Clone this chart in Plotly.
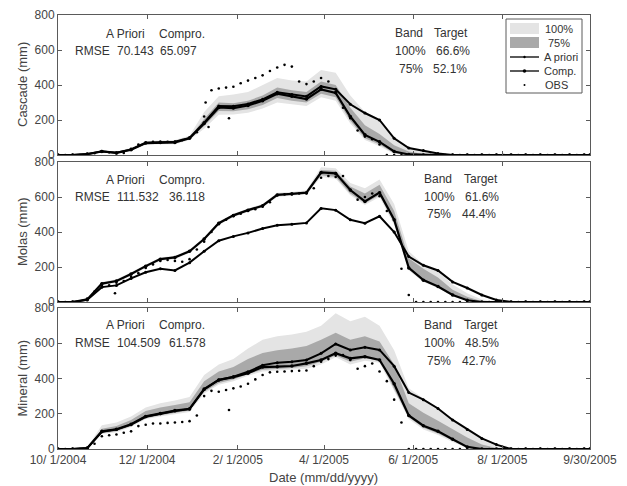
import pandas as pd
import plotly.graph_objects as go

W, H = 627, 486

# ---------------- data ----------------
dates10 = [d.strftime("%Y-%m-%d") for d in pd.date_range("2004-10-01", periods=37, freq="10D")] + ["2005-09-30"]
dates5 = [d.strftime("%Y-%m-%d") for d in pd.date_range("2004-10-01", periods=73, freq="5D")] + ["2005-09-30"]

# Cascade
casc_apri = [0, 0, 5, 22, 13, 32, 70, 75, 76, 98, 185, 280, 278, 292, 318, 358, 345, 335, 392, 375,
             290, 240, 200, 95, 40, 25, 8, 0, 0, 0, 0, 0, 0, 0, 0, 0, 0, 0]
casc_comp = [0, 0, 5, 20, 12, 30, 68, 72, 72, 95, 180, 272, 268, 283, 310, 350, 335, 320, 375, 355,
             220, 115, 75, 20, 3, 0, 0, 0, 0, 0, 0, 0, 0, 0, 0, 0, 0, 0]
casc_b100_lo = [0, 0, 3, 15, 8, 22, 58, 62, 62, 85, 150, 230, 232, 242, 265, 300, 290, 280, 330, 310,
                180, 85, 50, 5, 0, 0, 0, 0, 0, 0, 0, 0, 0, 0, 0, 0, 0, 0]
casc_b100_hi = [0, 0, 8, 28, 18, 42, 80, 82, 85, 110, 245, 335, 345, 360, 400, 440, 425, 420, 485, 470,
                340, 245, 205, 100, 45, 20, 0, 0, 0, 0, 0, 0, 0, 0, 0, 0, 0, 0]
casc_b75_lo = [0, 0, 4, 17, 10, 26, 62, 66, 66, 90, 165, 252, 250, 262, 285, 325, 310, 300, 350, 330,
               195, 95, 60, 10, 0, 0, 0, 0, 0, 0, 0, 0, 0, 0, 0, 0, 0, 0]
casc_b75_hi = [0, 0, 6, 24, 15, 36, 75, 78, 80, 103, 205, 300, 295, 310, 340, 385, 370, 360, 420, 400,
               270, 170, 120, 55, 20, 5, 0, 0, 0, 0, 0, 0, 0, 0, 0, 0, 0, 0]
casc_obs = [0, 0, 0, 0, 3, 10, 20, 15, 10, 12, 35, 60, 70, 75, 72, 75, 75, 85, 100, 130,
            220, 370, 380, 385, 390, 410, 425, 440, 455, 480, 500, 515, 505, 420, 405, 420, 440, 420, 360, 270,
            210, 140, 105, 90, 60, 0, 0, 0, 0, 0, 0, 0, 0, 0, 0, 0, 0, 0, 0, 0,
            0, 0, 0, 0, 0, 0, 0, 0, 0, 0, 0, 0, 0, 0]
casc_obs_extra_dates = ["2005-01-10", "2005-01-12", "2005-01-26"]
casc_obs_extra = [300, 160, 210]

# Molas
molas_apri = [0, 0, 12, 85, 95, 135, 170, 190, 180, 225, 290, 350, 375, 395, 420, 438, 445, 452, 535, 525,
              470, 450, 490, 400, 260, 210, 180, 115, 80, 40, 12, 0, 0, 0, 0, 0, 0, 0]
molas_comp = [0, 0, 15, 105, 120, 160, 205, 245, 255, 290, 360, 450, 495, 525, 550, 612, 618, 625, 740, 735,
              640, 575, 625, 470, 195, 125, 88, 40, 10, 0, 0, 0, 0, 0, 0, 0, 0, 0]
molas_b100_lo = [0, 0, 10, 95, 110, 150, 195, 235, 245, 280, 350, 440, 485, 515, 540, 600, 608, 615, 715, 705,
                 610, 555, 600, 440, 180, 115, 80, 35, 5, 0, 0, 0, 0, 0, 0, 0, 0, 0]
molas_b100_hi = [0, 0, 20, 115, 130, 170, 215, 255, 265, 300, 370, 460, 505, 535, 560, 625, 628, 638, 770, 765,
                 680, 650, 700, 560, 290, 215, 175, 100, 50, 15, 0, 0, 0, 0, 0, 0, 0, 0]
molas_b75_lo = [0, 0, 12, 100, 115, 155, 200, 240, 250, 285, 355, 445, 490, 520, 545, 606, 613, 620, 725, 715,
                620, 565, 610, 455, 190, 120, 85, 38, 8, 0, 0, 0, 0, 0, 0, 0, 0, 0]
molas_b75_hi = [0, 0, 18, 110, 125, 165, 210, 250, 260, 295, 365, 455, 500, 530, 555, 618, 623, 630, 755, 750,
                660, 620, 670, 520, 250, 190, 140, 70, 30, 5, 0, 0, 0, 0, 0, 0, 0, 0]
molas_obs = [0, 0, 0, 0, 20, 60, 95, 95, 110, 120, 145, 165, 195, 215, 235, 240, 235, 230, 245, 300,
             345, 400, 445, 470, 490, 505, 520, 530, 545, 570, 610, 615, 615, 620, 620, 650, 710, 720, 715, 720,
             640, 585, 600, 620, 605, 520, 400, 190, 40, 0, 0, 0, 0, 0, 0, 0, 0, 0, 0, 0,
             0, 0, 0, 0, 0, 0, 0, 0, 0, 0, 0, 0, 0, 0]
molas_obs_extra_dates = ["2004-11-09"]
molas_obs_extra = [50]

# Mineral
min_apri = [0, 0, 5, 98, 110, 138, 183, 200, 216, 226, 338, 392, 410, 438, 475, 490, 495, 505, 543, 596,
            562, 577, 562, 470, 320, 280, 230, 165, 110, 60, 25, 0, 0, 0, 0, 0, 0, 0]
min_comp = [0, 0, 5, 100, 112, 140, 185, 202, 218, 228, 340, 392, 408, 430, 465, 467, 471, 486, 505, 543,
            514, 524, 505, 370, 190, 132, 100, 55, 12, 0, 0, 0, 0, 0, 0, 0, 0, 0]
min_b100_lo = [0, 0, 3, 85, 95, 125, 170, 185, 198, 210, 315, 365, 385, 415, 440, 445, 450, 455, 480, 520,
               480, 500, 490, 330, 170, 110, 80, 40, 5, 0, 0, 0, 0, 0, 0, 0, 0, 0]
min_b100_hi = [0, 0, 10, 135, 150, 185, 235, 260, 275, 295, 420, 480, 510, 570, 620, 640, 650, 665, 700, 770,
               725, 750, 700, 560, 345, 290, 230, 170, 115, 62, 30, 0, 0, 0, 0, 0, 0, 0]
min_b75_lo = [0, 0, 4, 90, 100, 130, 175, 192, 205, 218, 325, 375, 395, 425, 450, 455, 460, 470, 495, 530,
              495, 515, 505, 340, 180, 120, 88, 48, 10, 0, 0, 0, 0, 0, 0, 0, 0, 0]
min_b75_hi = [0, 0, 8, 115, 130, 165, 215, 235, 250, 265, 385, 440, 465, 510, 545, 560, 570, 585, 620, 660,
              620, 640, 610, 480, 260, 205, 160, 110, 65, 25, 5, 0, 0, 0, 0, 0, 0, 0]
min_obs = [0, 0, 0, 0, 0, 30, 72, 78, 82, 92, 100, 130, 138, 145, 145, 148, 150, 153, 158, 190,
           300, 330, 325, 335, 344, 355, 370, 395, 420, 435, 438, 440, 442, 444, 445, 470, 495, 510, 530, 533,
           505, 455, 470, 485, 440, 385, 280, 150, 0, 0, 0, 0, 0, 0, 0, 0, 0, 0, 0, 0,
           0, 0, 0, 0, 0, 0, 0, 0, 0, 0, 0, 0, 0, 0]
min_obs_extra_dates = ["2005-01-26"]
min_obs_extra = [221]

panel_names = ["Cascade (mm)", "Molas (mm)", "Mineral (mm)"]
rmse_apriori = ["70.143", "111.532", "104.509"]
rmse_compro = ["65.097", "36.118", "61.578"]
target_100 = ["66.6%", "61.6%", "48.5%"]
target_75 = ["52.1%", "44.4%", "42.7%"]

x_tickvals = ["2004-10-01", "2004-12-01", "2005-02-01", "2005-04-01", "2005-06-01", "2005-08-01", "2005-09-30"]
x_ticktext = ["10/ 1/2004", "12/ 1/2004", "2/ 1/2005", "4/ 1/2005", "6/ 1/2005", "8/ 1/2005", "9/30/2005"]
y_tickvals = [0, 200, 400, 600, 800]

panels = [
    (casc_apri, casc_comp, casc_b100_lo, casc_b100_hi, casc_b75_lo, casc_b75_hi, casc_obs,
     casc_obs_extra_dates, casc_obs_extra),
    (molas_apri, molas_comp, molas_b100_lo, molas_b100_hi, molas_b75_lo, molas_b75_hi, molas_obs,
     molas_obs_extra_dates, molas_obs_extra),
    (min_apri, min_comp, min_b100_lo, min_b100_hi, min_b75_lo, min_b75_hi, min_obs,
     min_obs_extra_dates, min_obs_extra),
]

# ---------------- styling ----------------
FONT = "Liberation Sans, Arial, Helvetica, sans-serif"
LIGHT = "#e4e4e4"
DARK = "#a9a9a9"
AXC = "#5a5a5a"
TXT = "#333333"

def px(x):
    return x / W

def py(y):
    return 1 - y / H

panel_px = [(15, 155), (162, 302), (308, 449)]
x_left, x_right = 58, 590

fig = go.Figure()

for i, (apri, comp, b1lo, b1hi, b7lo, b7hi, obs, ex_d, ex_v) in enumerate(panels):
    xa = "x" if i == 0 else f"x{i+1}"
    ya = "y" if i == 0 else f"y{i+1}"
    fig.add_trace(go.Scatter(x=dates10, y=b1lo, mode="lines", line=dict(width=0, color=LIGHT),
                             xaxis=xa, yaxis=ya, showlegend=False, hoverinfo="skip"))
    fig.add_trace(go.Scatter(x=dates10, y=b1hi, mode="lines", line=dict(width=0, color=LIGHT),
                             fill="tonexty", fillcolor=LIGHT, xaxis=xa, yaxis=ya, showlegend=False))
    fig.add_trace(go.Scatter(x=dates10, y=b7lo, mode="lines", line=dict(width=0, color=DARK),
                             xaxis=xa, yaxis=ya, showlegend=False, hoverinfo="skip"))
    fig.add_trace(go.Scatter(x=dates10, y=b7hi, mode="lines", line=dict(width=0, color=DARK),
                             fill="tonexty", fillcolor=DARK, xaxis=xa, yaxis=ya, showlegend=False))
    fig.add_trace(go.Scatter(x=dates10, y=apri, mode="lines+markers",
                             line=dict(color="black", width=2), marker=dict(size=3, color="black"),
                             xaxis=xa, yaxis=ya, showlegend=False, name="A priori"))
    fig.add_trace(go.Scatter(x=dates10, y=comp, mode="lines+markers",
                             line=dict(color="black", width=2.2), marker=dict(size=3.5, color="black"),
                             xaxis=xa, yaxis=ya, showlegend=False, name="Comp."))
    fig.add_trace(go.Scatter(x=dates5 + ex_d, y=obs + ex_v, mode="markers",
                             marker=dict(size=2.6, color="black"),
                             xaxis=xa, yaxis=ya, showlegend=False, name="OBS"))

layout = dict(
    template="none",
    width=W, height=H,
    margin=dict(l=0, r=0, t=0, b=0, pad=0, autoexpand=False),
    paper_bgcolor="white", plot_bgcolor="white",
    showlegend=False,
    font=dict(family=FONT, size=12, color=TXT),
)

for i, (top, bot) in enumerate(panel_px):
    xk = "xaxis" if i == 0 else f"xaxis{i+1}"
    yk = "yaxis" if i == 0 else f"yaxis{i+1}"
    layout[xk] = dict(
        domain=[px(x_left), px(x_right)],
        anchor="y" if i == 0 else f"y{i+1}",
        type="date", range=["2004-10-01", "2005-09-30"],
        tickvals=x_tickvals, ticktext=x_ticktext,
        showticklabels=(i == 2),
        ticks="inside", ticklen=4, tickcolor=AXC, tickwidth=1,
        showline=True, linecolor=AXC, linewidth=1, mirror="ticks",
        showgrid=False, zeroline=False, automargin=False,
        tickfont=dict(family=FONT, size=12, color="#444444"),
    )
    layout[yk] = dict(
        domain=[py(bot), py(top)],
        anchor="x" if i == 0 else f"x{i+1}",
        range=[0, 800], tickvals=y_tickvals,
        ticks="inside", ticklen=4, tickcolor=AXC, tickwidth=1,
        showline=True, linecolor=AXC, linewidth=1, mirror="ticks",
        showgrid=False, zeroline=False, automargin=False,
        tickfont=dict(family=FONT, size=12, color="#444444"),
    )

annotations = []

def add_text(text, x, y, size=12, anchor="left", angle=0, color=TXT):
    annotations.append(dict(text=text, x=px(x), y=py(y), xref="paper", yref="paper",
                            xanchor=anchor, yanchor="middle", showarrow=False, textangle=angle,
                            font=dict(family=FONT, size=size, color=color)))

left_rows = [(34, 51), (180, 197), (325, 343)]
right_cols = [(393, 397, 432, 434, 431), (422, 425, 462, 463, 460), (422, 425, 462, 463, 460)]
right_rows = [(33, 51, 69), (179, 197, 214), (325, 343, 361)]
for i in range(3):
    r1, r2 = left_rows[i]
    add_text("A Priori", 104, r1)
    add_text("Compro.", 157, r1)
    add_text("RMSE", 73, r2)
    add_text(rmse_apriori[i], 115, r2)
    add_text(rmse_compro[i], 158 if i == 0 else 167, r2)
    bx, bx75, tx, t100x, t75x = right_cols[i]
    q1, q2, q3 = right_rows[i]
    add_text("Band", bx, q1)
    add_text("Target", tx, q1)
    add_text("100%", bx, q2)
    add_text(target_100[i], t100x, q2)
    add_text("75%", bx75, q3)
    add_text(target_75[i], t75x, q3)
    top, bot = panel_px[i]
    add_text(panel_names[i], 22, (top + bot) / 2, size=13, anchor="center", angle=-90, color="#444444")

add_text("Date (mm/dd/yyyy)", 323, 477, size=13, anchor="center", color="#444444")

shapes = []
shapes.append(dict(type="rect", xref="paper", yref="paper", x0=px(506), x1=px(582), y0=py(93), y1=py(19),
                   line=dict(color=AXC, width=1), fillcolor="white", layer="above"))
shapes.append(dict(type="rect", xref="paper", yref="paper", x0=px(510), x1=px(539), y0=py(34), y1=py(23),
                   line=dict(width=0), fillcolor=LIGHT, layer="above"))
shapes.append(dict(type="rect", xref="paper", yref="paper", x0=px(510), x1=px(539), y0=py(48), y1=py(37),
                   line=dict(width=0), fillcolor=DARK, layer="above"))
for yy, r in [(57, 1.2), (71, 1.8)]:
    shapes.append(dict(type="line", xref="paper", yref="paper", x0=px(510), x1=px(539), y0=py(yy), y1=py(yy),
                       line=dict(color="black", width=1.3), layer="above"))
    shapes.append(dict(type="circle", xref="paper", yref="paper", x0=px(524.5 - r), x1=px(524.5 + r),
                       y0=py(yy + r), y1=py(yy - r), line=dict(width=0), fillcolor="black", layer="above"))
shapes.append(dict(type="circle", xref="paper", yref="paper", x0=px(523.5), x1=px(525.5),
                   y0=py(86), y1=py(84), line=dict(width=0), fillcolor="black", layer="above"))
legend_labels = [("100%", 543, 29), ("75%", 546, 43), ("A priori", 542, 57), ("Comp.", 542, 71), ("OBS", 543, 85)]
for t, x, y in legend_labels:
    add_text(t, x, y, size=11)

layout["annotations"] = annotations
layout["shapes"] = shapes
fig.update_layout(**layout)

fig.write_html("out.html", config={"displayModeBar": False},
               post_script="document.body.style.margin='0';document.body.style.overflow='hidden';")
